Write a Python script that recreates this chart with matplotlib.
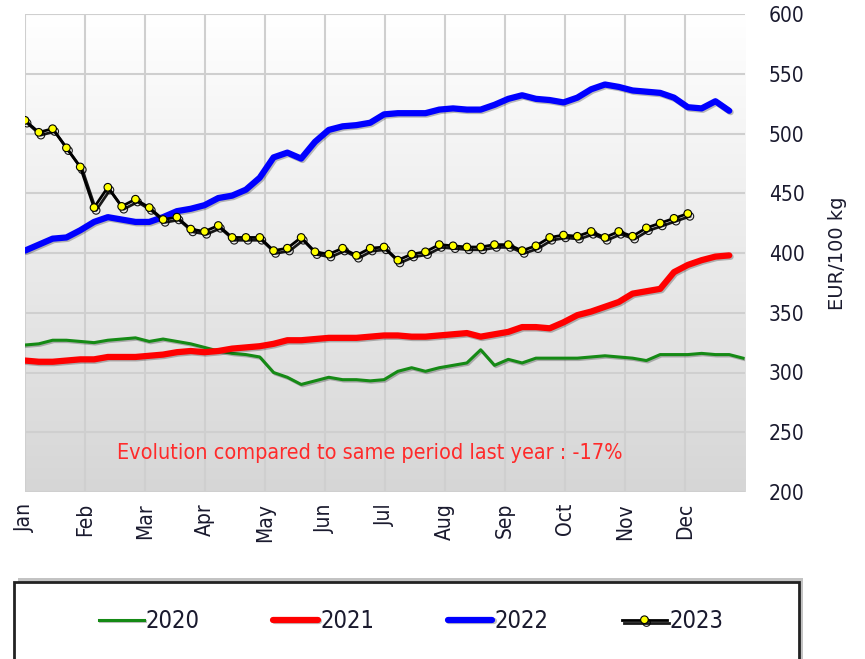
import numpy as np
import matplotlib
matplotlib.use("Agg")
import matplotlib.pyplot as plt
import matplotlib.patheffects as pe
from matplotlib.patches import Rectangle
from matplotlib.colors import LinearSegmentedColormap
from matplotlib import font_manager

# weekly prices, EUR/100 kg
y2020 = [323, 324, 327, 327, 326, 325, 327, 328, 329, 326, 328, 326, 324, 321, 318, 316,
         315, 313, 300, 296, 290, 293, 296, 294, 294, 293, 294, 301, 304, 301, 304, 306,
         308, 319, 306, 311, 308, 312, 312, 312, 312, 313, 314, 313, 312, 310, 315, 315,
         315, 316, 315, 315, 312]
y2021 = [310, 309, 309, 310, 311, 311, 313, 313, 313, 314, 315, 317, 318, 317, 318, 320,
         321, 322, 324, 327, 327, 328, 329, 329, 329, 330, 331, 331, 330, 330, 331, 332,
         333, 330, 332, 334, 338, 338, 337, 342, 348, 351, 355, 359, 366, 368, 370, 384,
         390, 394, 397, 398]
y2022 = [402, 407, 412, 413, 419, 426, 430, 428, 426, 426, 430, 435, 437, 440, 446, 448,
         453, 463, 480, 484, 479, 493, 503, 506, 507, 509, 516, 517, 517, 517, 520, 521,
         520, 520, 524, 529, 532, 529, 528, 526, 530, 537, 541, 539, 536, 535, 534, 530,
         522, 521, 527, 519]
y2023 = [511, 501, 504, 488, 472, 438, 455, 439, 445, 438, 428, 430, 420, 418, 423, 413,
         413, 413, 402, 404, 413, 401, 399, 404, 398, 404, 405, 394, 399, 401, 407, 406,
         405, 405, 407, 407, 402, 406, 413, 415, 414, 418, 413, 418, 414, 421, 425, 429,
         433]

months = ["Jan", "Feb", "Mar", "Apr", "May", "Jun", "Jul", "Aug", "Sep", "Oct", "Nov", "Dec"]
yticks = [200, 250, 300, 350, 400, 450, 500, 550, 600]
note = "Evolution compared to same period last year : -17%"

TXT = "#1a1a2e"
NARROW = font_manager.FontProperties(family="DejaVu Sans", stretch="condensed")


def week_x(vals):
    # week position expressed in months
    return np.arange(len(vals)) * 7 * 12 / 365.0


def nf(size):
    f = NARROW.copy()
    f.set_size(size)
    return f


fig = plt.figure(figsize=(8.65, 6.59), dpi=100)
ax = fig.add_axes([25 / 865, 1 - 492 / 659, 720 / 865, 478 / 659])

# gradient background, white at the top
grad = np.linspace(0, 1, 256).reshape(-1, 1)
cmap = LinearSegmentedColormap.from_list("bg", ["#ffffff", "#d6d6d6"])
ax.imshow(grad, extent=[0, 12, 200, 600], aspect="auto", cmap=cmap, zorder=0)

ax.set_xlim(0, 12)
ax.set_ylim(200, 600)
ax.set_axisbelow(True)
ax.grid(True, color="#cfcfcf", lw=1.5)
for s in ax.spines.values():
    s.set_visible(False)

ax.set_xticks(range(12))
ax.set_xticklabels(months, rotation=90, fontproperties=nf(15), color=TXT,
                   va="top", ha="center")
ax.set_yticks(yticks)
ax.set_yticklabels([str(v) for v in yticks], fontproperties=nf(15), color=TXT)
ax.yaxis.tick_right()
ax.tick_params(axis="both", length=0)
ax.tick_params(axis="y", pad=17)
ax.tick_params(axis="x", pad=8)
ax.yaxis.set_label_position("right")
ax.set_ylabel("EUR/100 kg", fontsize=14, color=TXT, labelpad=17)

shadow = [pe.SimpleLineShadow(offset=(1, -1), alpha=0.25), pe.Normal()]
ax.plot(week_x(y2020), y2020, color="#158a15", lw=2.2, label="2020", path_effects=shadow)
ax.plot(week_x(y2021), y2021, color="#ff0000", lw=4.5, label="2021",
        solid_capstyle="round", path_effects=shadow)
ax.plot(week_x(y2022), y2022, color="#0000ff", lw=4.5, label="2022",
        solid_capstyle="round", path_effects=shadow)
ax.plot(week_x(y2023), y2023, color="black", lw=2, marker="o", ms=5.5,
        mfc="#ffff00", mec="black", mew=0.8, label="2023",
        path_effects=[pe.SimpleLineShadow(offset=(1.5, -2), shadow_color="black", alpha=0.9),
                      pe.Normal()])

ax.text(5.75, 233, note, color="#ff2a2a", fontproperties=nf(15.5),
        ha="center", va="center")

# legend box with shadow
fig.patches.append(Rectangle((18 / 865, -0.1), 785 / 865, 1 - 578 / 659 + 0.1,
                             transform=fig.transFigure, facecolor="#888888",
                             edgecolor="none", alpha=0.5, zorder=1))
fig.patches.append(Rectangle((14 / 865, -0.1), 785 / 865, 1 - 582 / 659 + 0.1,
                             transform=fig.transFigure, facecolor="white",
                             edgecolor="#222222", lw=2, zorder=2))
leg = fig.legend(loc="center", bbox_to_anchor=(411 / 865, 1 - 621 / 659), ncol=4,
                 frameon=False, prop=nf(17),
                 handlelength=1.9, handletextpad=0.1, columnspacing=3.1,
                 numpoints=1)
leg.set_zorder(3)
for t in leg.get_texts():
    t.set_color(TXT)

fig.savefig("out.png", dpi=100)
